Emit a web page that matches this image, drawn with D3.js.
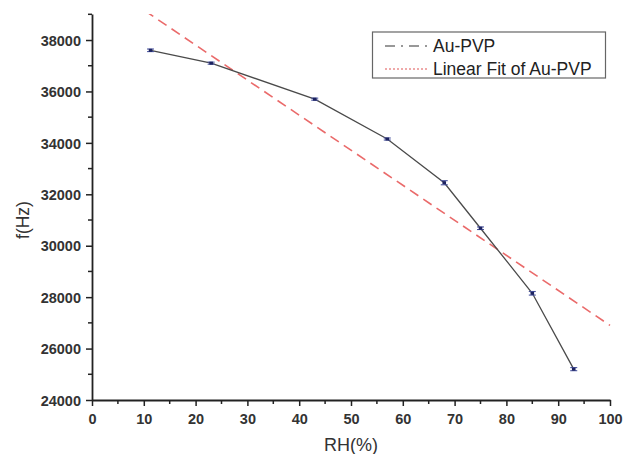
<!DOCTYPE html>
<html>
<head>
<meta charset="utf-8">
<script src="https://cdn.jsdelivr.net/npm/d3@7/dist/d3.min.js"></script>
<style>
body{margin:0;background:#fff;}
svg{display:block;}
</style>
</head>
<body>
<svg id="chart" width="623" height="454"></svg>
<script>
// Data
const rh = [11.3, 23, 43, 57, 68, 75, 85, 93];
const freq = [37600, 37100, 35700, 34150, 32450, 30680, 28150, 25200];
const errs = [50, 40, 40, 40, 80, 50, 70, 60];
const fitX = [0, 100];
const fitY = [40530, 26900];
const xTicks = [0,10,20,30,40,50,60,70,80,90,100];
const yTicks = [24000,26000,28000,30000,32000,34000,36000,38000];
const seriesNames = ["Au-PVP", "Linear Fit of Au-PVP"];

(function(){
const svg = d3.select("#chart");
const pL = 92, pR = 610, pT = 14, pB = 400;
const x = d3.scaleLinear().domain([0,100]).range([pL,pR]);
const y = d3.scaleLinear().domain([24000,39012]).range([pB,pT]);

const font = "Arial, 'Liberation Sans', sans-serif";

svg.append("defs").append("clipPath").attr("id","clip")
  .append("rect").attr("x",pL).attr("y",pT).attr("width",pR-pL+12).attr("height",pB-pT);

// Fit line
svg.append("g").attr("clip-path","url(#clip)")
  .append("line")
  .attr("x1",x(fitX[0])).attr("y1",y(fitY[0]))
  .attr("x2",x(fitX[1])).attr("y2",y(fitY[1]))
  .attr("stroke","#ea6a6a").attr("stroke-width",1.6)
  .attr("stroke-dasharray","10,6");

// Data line
const pts = rh.map((d,i)=>[d,freq[i],errs[i]]);
svg.append("path").datum(pts)
  .attr("fill","none").attr("stroke","#4a4a4a").attr("stroke-width",1.3)
  .attr("d", d3.line().x(d=>x(d[0])).y(d=>y(d[1])));

// Error bars
const eb = svg.append("g").attr("stroke","#4a55a0").attr("stroke-width",1.1);
pts.forEach(d=>{
  const cx = x(d[0]);
  eb.append("line").attr("x1",cx).attr("x2",cx).attr("y1",y(d[1]-d[2])).attr("y2",y(d[1]+d[2]));
  eb.append("line").attr("x1",cx-3.5).attr("x2",cx+3.5).attr("y1",y(d[1]-d[2])).attr("y2",y(d[1]-d[2]));
  eb.append("line").attr("x1",cx-3.5).attr("x2",cx+3.5).attr("y1",y(d[1]+d[2])).attr("y2",y(d[1]+d[2]));
});
svg.append("g").selectAll("rect").data(pts).join("rect")
  .attr("x",d=>x(d[0])-1.8).attr("y",d=>y(d[1])-1.5)
  .attr("width",3.6).attr("height",3)
  .attr("fill","#1c2260");

// Axes
const xAxis = d3.axisBottom(x).tickValues(xTicks).tickFormat(d3.format("d")).tickSize(6).tickSizeOuter(0);
const gx = svg.append("g").attr("transform",`translate(0,${pB})`).call(xAxis);
const xMinor = d3.range(5,100,10);
gx.selectAll(".minor").data(xMinor).join("line").attr("class","minor")
  .attr("x1",d=>x(d)).attr("x2",d=>x(d)).attr("y1",0).attr("y2",4).attr("stroke","#222").attr("stroke-width",1.5);

const yAxis = d3.axisLeft(y).tickValues(yTicks).tickFormat(d3.format("d")).tickSize(6).tickSizeOuter(0);
const gy = svg.append("g").attr("transform",`translate(${pL},0)`).call(yAxis);
const yMinor = d3.range(25000,39001,2000);
gy.selectAll(".minor").data(yMinor).join("line").attr("class","minor")
  .attr("x1",0).attr("x2",-4).attr("y1",d=>y(d)).attr("y2",d=>y(d)).attr("stroke","#222").attr("stroke-width",1.5);

[gx,gy].forEach(g=>{
  g.select(".domain").attr("stroke","#222").attr("stroke-width",1.8);
  g.selectAll(".tick line").attr("stroke","#222").attr("stroke-width",1.5);
  g.selectAll(".tick text").attr("font-family",font).attr("font-size",14.5).attr("font-weight","bold").attr("fill","#333");
});
gx.selectAll(".tick text").attr("dy",0).attr("y",24);
gy.selectAll(".tick text").attr("x",-11).attr("dy","0.36em");

// Axis labels
svg.append("text").attr("x",351).attr("y",451).attr("text-anchor","middle")
  .attr("font-family",font).attr("font-size",18).attr("fill","#333").text("RH(%)");
svg.append("text").attr("transform","translate(29,220) rotate(-90)").attr("text-anchor","middle")
  .attr("font-family",font).attr("font-size",17.5).attr("fill","#333").text("f(Hz)");

// Legend
const lg = svg.append("g");
lg.append("rect").attr("x",372.5).attr("y",32).attr("width",233).attr("height",46)
  .attr("fill","#fff").attr("stroke","#666").attr("stroke-width",1.2);
lg.append("line").attr("x1",385).attr("x2",429).attr("y1",46).attr("y2",46)
  .attr("stroke","#333").attr("stroke-width",1.2).attr("stroke-dasharray","10,6,2,6");
lg.append("text").attr("x",433).attr("y",52).attr("font-family",font).attr("font-size",17.5).attr("fill","#222").text(seriesNames[0]);
lg.append("line").attr("x1",385).attr("x2",428).attr("y1",69).attr("y2",69)
  .attr("stroke","#e05555").attr("stroke-width",1.2).attr("stroke-dasharray","2,2");
lg.append("text").attr("x",433).attr("y",75).attr("font-family",font).attr("font-size",17.5).attr("fill","#222").text(seriesNames[1]);
})();
</script>
</body>
</html>
